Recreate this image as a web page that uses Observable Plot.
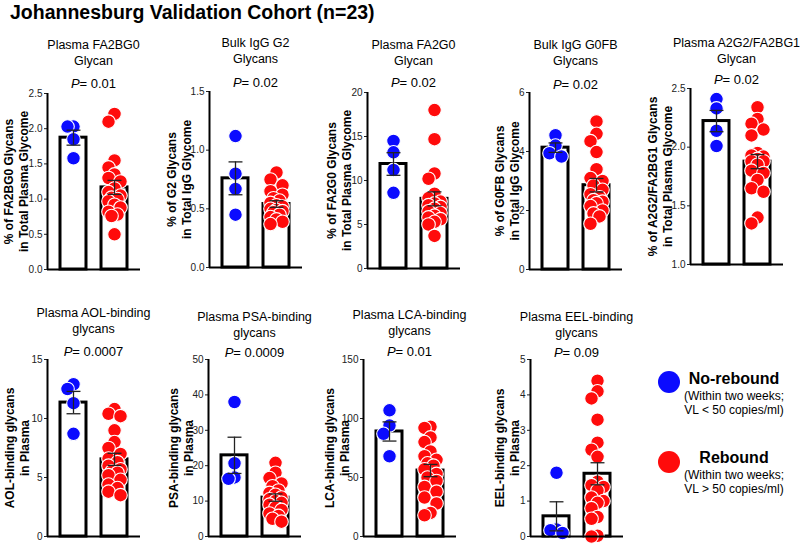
<!DOCTYPE html>
<html><head><meta charset="utf-8">
<script src="https://cdn.jsdelivr.net/npm/d3@7"></script>
<script src="https://cdn.jsdelivr.net/npm/@observablehq/plot@0.6"></script>
<style>
body{margin:0;background:#fff;}
#root{position:relative;width:800px;height:544px;overflow:hidden;font-family:"Liberation Sans",Arial,Helvetica,sans-serif;color:#000;background:#fff;}
.title{position:absolute;text-align:center;font-size:12.5px;line-height:16px;white-space:nowrap;width:200px;}
.pval{position:absolute;text-align:center;font-size:13px;line-height:16px;white-space:nowrap;width:200px;}
.main{position:absolute;left:10px;top:0px;font-size:19.5px;font-weight:bold;line-height:24px;white-space:nowrap;}
.leg{position:absolute;text-align:center;width:120px;white-space:nowrap;}
.leg b{display:block;font-size:16px;line-height:20px;}
.leg span{display:block;font-size:12px;line-height:14px;}
.dotk{position:absolute;width:22px;height:22px;border-radius:50%;}
</style></head><body><div id="root"></div>
<script>
// ---------- data ----------
const groups = ["No-rebound", "Rebound"];
const groupNotes = ["(Within two weeks;\nVL < 50 copies/ml)", "(Within two weeks;\nVL > 50 copies/ml)"];
const mainTitle = "Johannesburg Validation Cohort (n=23)";

const panelTitles = [
  "Plasma FA2BG0\nGlycan", "Bulk IgG G2\nGlycans", "Plasma FA2G0\nGlycan", "Bulk IgG G0FB\nGlycans",
  "Plasma A2G2/FA2BG1\nGlycan", "Plasma AOL-binding\nglycans", "Plasma PSA-binding\nglycans",
  "Plasma LCA-binding\nglycans", "Plasma EEL-binding\nglycans"
];
const yLabels = [
  "% of FA2BG0 Glycans\nin Total Plasma Glycome", "% of G2 Glycans\nin Total IgG Glycome",
  "% of FA2G0 Glycans\nin Total Plasma Glycome", "% of G0FB Glycans\nin Total IgG Glycome",
  "% of A2G2/FA2BG1 Glycans\nin Total Plasma Glycome", "AOL-binding glycans\nin Plasma",
  "PSA-binding glycans\nin Plasma", "LCA-binding glycans\nin Plasma", "EEL-binding glycans\nin Plasma"
];
const pValues = ["0.01", "0.02", "0.02", "0.02", "0.02", "0.0007", "0.0009", "0.01", "0.09"];
const yDomains = [[0,2.5],[0,1.5],[0,20],[0,6],[1,2.5],[0,15],[0,50],[0,150],[0,5]];
const yTicks = [
  [0,0.5,1,1.5,2,2.5],[0,0.5,1,1.5],[0,5,10,15,20],[0,2,4,6],[1,1.5,2,2.5],
  [0,5,10,15],[0,10,20,30,40,50],[0,50,100,150],[0,1,2,3,4,5]
];
const yDecimals = [1,1,0,0,1,0,0,0,0];

const fa2bg0NoRebound = [2.03, 2.03, 1.85, 1.58];
const fa2bg0Rebound = [2.21, 2.10, 1.55, 1.45, 1.35, 1.30, 1.25, 1.15, 1.10, 1.05, 1.02, 1.00, 0.97, 0.92, 0.88, 0.82, 0.78, 0.76, 0.50];
const g2NoRebound = [1.12, 0.80, 0.67, 0.45];
const g2Rebound = [0.81, 0.75, 0.70, 0.65, 0.62, 0.59, 0.57, 0.55, 0.53, 0.52, 0.50, 0.49, 0.48, 0.47, 0.45, 0.43, 0.41, 0.39, 0.37];
const fa2g0NoRebound = [14.5, 13.2, 11.2, 8.6];
const fa2g0Rebound = [18.0, 14.7, 10.8, 10.2, 8.5, 8.0, 7.6, 7.4, 7.2, 7.0, 6.8, 6.5, 6.3, 6.0, 5.8, 5.6, 5.3, 5.0, 3.7];
const g0fbNoRebound = [4.55, 4.20, 3.94, 3.83];
const g0fbRebound = [5.02, 4.60, 4.35, 3.98, 3.40, 3.10, 3.00, 2.85, 2.70, 2.55, 2.45, 2.35, 2.30, 2.25, 2.15, 2.00, 1.90, 1.80, 1.55];
const a2g2NoRebound = [2.41, 2.33, 2.14, 2.01];
const a2g2Rebound = [2.34, 2.24, 2.20, 2.15, 2.10, 1.95, 1.93, 1.92, 1.90, 1.88, 1.88, 1.85, 1.80, 1.78, 1.72, 1.65, 1.62, 1.40, 1.35];
const aolNoRebound = [12.9, 12.5, 11.3, 8.7];
const aolRebound = [10.8, 10.4, 10.2, 9.0, 8.0, 7.5, 7.0, 6.6, 6.3, 6.0, 5.7, 5.5, 5.4, 5.2, 4.8, 4.4, 4.1, 3.8, 3.5];
const psaNoRebound = [38.0, 20.7, 16.7, 16.3];
const psaRebound = [20.8, 18.0, 16.5, 15.0, 14.2, 13.0, 12.3, 11.8, 11.0, 10.5, 10.0, 9.5, 9.0, 8.2, 7.5, 6.5, 5.8, 5.0, 4.2];
const lcaNoRebound = [106.9, 94.1, 87.0, 68.0];
const lcaRebound = [93, 92, 84, 80, 72, 68, 65, 62, 60, 57, 53, 50, 47, 42, 38, 33, 28, 20, 18];
const eelNoRebound = [1.80, 0.20, 0.18, 0.10];
const eelRebound = [4.40, 4.10, 3.90, 3.30, 2.65, 2.45, 2.25, 1.55, 1.45, 1.40, 1.30, 1.10, 1.00, 0.95, 0.80, 0.55, 0.50, 0.02, 0.00];

const noReboundSets = [fa2bg0NoRebound, g2NoRebound, fa2g0NoRebound, g0fbNoRebound, a2g2NoRebound, aolNoRebound, psaNoRebound, lcaNoRebound, eelNoRebound];
const reboundSets = [fa2bg0Rebound, g2Rebound, fa2g0Rebound, g0fbRebound, a2g2Rebound, aolRebound, psaRebound, lcaRebound, eelRebound];

// ---------- layout (pixels) ----------
const layout = [
  {left: 0,   top: 93,  h: 176, t: 45,  p: 84, ldx: -32},
  {left: 162, top: 91,  h: 176, t: 43,  p: 83, ldx: -31},
  {left: 320, top: 92,  h: 176, t: 45,  p: 83, ldx: -29},
  {left: 482, top: 92,  h: 177, t: 45,  p: 85, ldx: -23},
  {left: 643, top: 88,  h: 176, t: 43,  p: 80, ldx: -31},
  {left: 0,   top: 359, h: 177, t: 313, p: 352, ldx: -31},
  {left: 161, top: 359, h: 177, t: 317, p: 353, ldx: -28},
  {left: 316, top: 359, h: 177, t: 315, p: 352, ldx: -27},
  {left: 483, top: 359, h: 177, t: 317, p: 353, ldx: -24}
];
const colors = ["#0b0bff", "#ff0b0b"];

const root = document.getElementById("root");
const ML = 47, MR = 20, MT = 8, MB = 6, W = 160;
const pxPerUnit = (W - ML - MR) / (1.634 + 0.634);

function swarm(vals, ypx) {
  const placed = [];
  const cands = [0, -6, 6, -3, 3];
  return vals.map(v => {
    const py = ypx(v);
    let best = 0, bestD = -1;
    for (const c of cands) {
      let dmin = Infinity;
      for (const q of placed) dmin = Math.min(dmin, Math.hypot(q[0] - c, q[1] - py));
      if (dmin >= 9) { best = c; bestD = dmin; break; }
      if (dmin > bestD) { bestD = dmin; best = c; }
    }
    placed.push([best, py]);
    return best / pxPerUnit;
  });
}

const mainDiv = document.createElement("div");
mainDiv.className = "main";
mainDiv.textContent = mainTitle;
root.appendChild(mainDiv);

panelTitles.forEach((title, k) => {
  const L = layout[k];
  const [lo, hi] = yDomains[k];
  const ypx = d3.scaleLinear([lo, hi], [L.h, 0]);
  const pts = [], summ = [];
  [noReboundSets[k], reboundSets[k]].forEach((vals, gi) => {
    const offs = swarm(vals, ypx);
    vals.forEach((v, j) => pts.push({g: groups[gi], v, x: gi + offs[j]}));
    const m = d3.mean(vals), se = d3.deviation(vals) / Math.sqrt(vals.length);
    summ.push({gi, m, lo: m - se, hi: m + se});
  });
  const caps = summ.flatMap(s => [{gi: s.gi, y: s.lo}, {gi: s.gi, y: s.hi}]);
  const fmt = d3.format("." + yDecimals[k] + "f");
  const svg = Plot.plot({
    width: W, height: MT + L.h + MB,
    marginLeft: ML, marginRight: MR, marginTop: MT, marginBottom: MB,
    style: {background: "transparent", fontFamily: "Liberation Sans, Arial, sans-serif", fontSize: "10px", color: "#222", overflow: "visible"},
    x: {domain: [-0.634, 1.634], axis: null},
    y: {domain: [lo, hi], ticks: yTicks[k], tickFormat: fmt, tickSize: 3, tickPadding: 2, label: null},
    color: {domain: groups, range: colors},
    marks: [
      Plot.rectY(summ, {x1: d => d.gi - 0.317, x2: d => d.gi + 0.317, y1: lo, y2: "m", fill: "white", stroke: "black", strokeWidth: 3}),
      Plot.dot(pts, {x: "x", y: "v", fill: "g", r: 6.8, stroke: "white", strokeWidth: 1.1}),
      Plot.ruleX(summ, {x: "gi", y1: "lo", y2: "hi", stroke: "#222", strokeWidth: 1.3}),
      Plot.link(caps, {x1: d => d.gi - 0.17, x2: d => d.gi + 0.17, y1: "y", y2: "y", stroke: "#222", strokeWidth: 1.3}),
      Plot.ruleX([-0.634], {y1: lo, y2: hi, stroke: "black", strokeWidth: 2}),
      Plot.ruleY([lo], {stroke: "black", strokeWidth: 2}),
      Plot.text([yLabels[k]], {text: d => d, frameAnchor: "left", textAnchor: "middle", lineAnchor: "middle", rotate: -90, dx: L.ldx, fontSize: 12, fontWeight: "bold", lineHeight: 1.25, fill: "black"})
    ]
  });
  svg.style.position = "absolute";
  svg.style.left = L.left + "px";
  svg.style.top = (L.top - MT) + "px";
  root.appendChild(svg);

  const cx = L.left + ML + (W - ML - MR) / 2;
  const t = document.createElement("div");
  t.className = "title";
  t.style.left = (cx - 100) + "px";
  t.style.top = (L.t - 8) + "px";
  t.innerHTML = title.split("\n").join("<br>");
  root.appendChild(t);
  const pv = document.createElement("div");
  pv.className = "pval";
  pv.style.left = (cx - 100) + "px";
  pv.style.top = (L.p - 8) + "px";
  pv.innerHTML = "<i>P</i>= " + pValues[k];
  root.appendChild(pv);
});

// legend
const legPos = [{cy: 382, ty: 369}, {cy: 462, ty: 448}];
groups.forEach((g, i) => {
  const c = document.createElement("div");
  c.className = "dotk";
  c.style.background = colors[i];
  c.style.left = (669 - 11) + "px";
  c.style.top = (legPos[i].cy - 11) + "px";
  root.appendChild(c);
  const t = document.createElement("div");
  t.className = "leg";
  t.style.left = (734 - 60) + "px";
  t.style.top = legPos[i].ty + "px";
  t.innerHTML = "<b>" + g + "</b>" + groupNotes[i].split("\n").map(s => "<span>" + s.replace("<", "&lt;").replace(">", "&gt;") + "</span>").join("");
  root.appendChild(t);
});
</script></body></html>
